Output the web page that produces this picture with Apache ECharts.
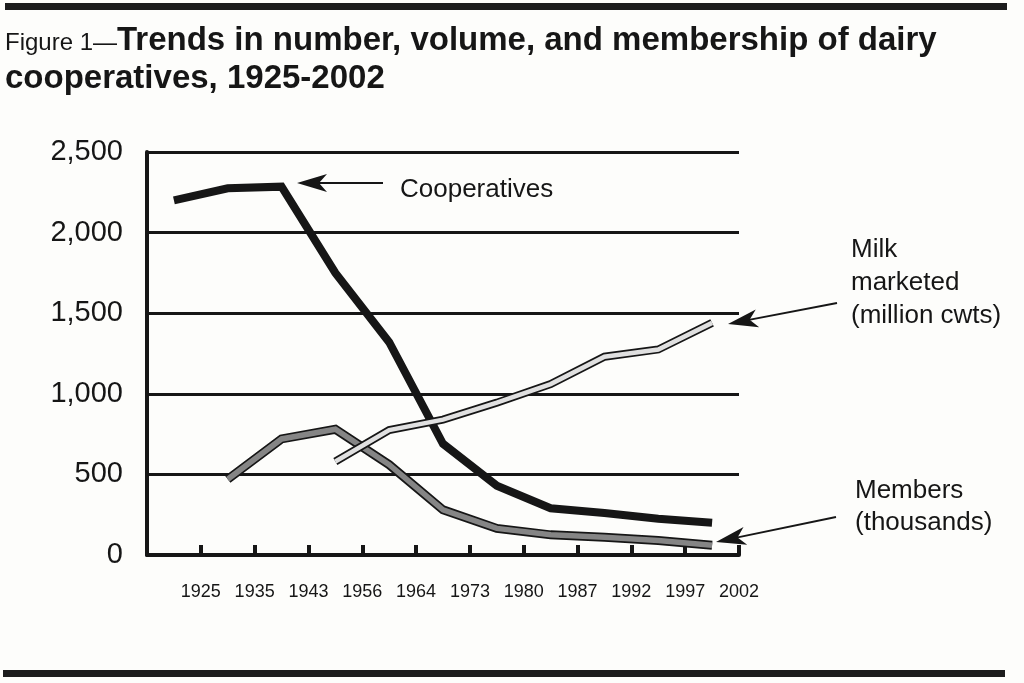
<!DOCTYPE html>
<html>
<head>
<meta charset="utf-8">
<title>Dairy cooperatives 1925-2002</title>
<script src="https://cdn.jsdelivr.net/npm/echarts@6/dist/echarts.min.js"></script>
<style>
  html, body { margin: 0; padding: 0; background: #fdfdfb; }
  #chart { width: 1024px; height: 683px; }
</style>
</head>
<body>
<div id="chart"></div>
<script>
// tick labels on the x axis (first slot left blank, it sits on the y axis)
var yearLabels = ["", "1925", "1935", "1943", "1956", "1964", "1973", "1980", "1987", "1992", "1997", "2002"];
// one point per period, drawn in the middle of each slot
var periods = ["p1", "p2", "p3", "p4", "p5", "p6", "p7", "p8", "p9", "p10", "p11"];

var cooperatives = [2200, 2275, 2285, 1750, 1320, 690, 430, 290, 260, 225, 200];
var members = [null, 470, 720, 780, 560, 280, 165, 125, 110, 90, 60];
var milkMarketed = [null, null, null, 580, 775, 840, 945, 1060, 1230, 1275, 1440];

var yTicks = [0, 500, 1000, 1500, 2000, 2500];

var ink = "#161616";
var font = "'Liberation Sans', Arial, Helvetica, sans-serif";

// arrow made of a thin shaft and a barbed head, tip at (x2, y2)
function arrow(x1, y1, x2, y2) {
  var a = Math.atan2(y2 - y1, x2 - x1);
  var c = Math.cos(a), s = Math.sin(a);
  function pt(back, side) {
    return [x2 - back * c - side * s, y2 - back * s + side * c];
  }
  return [
    {
      type: "line",
      shape: { x1: x1, y1: y1, x2: pt(16, 0)[0], y2: pt(16, 0)[1] },
      style: { stroke: ink, lineWidth: 1.8 },
    },
    {
      type: "polygon",
      shape: { points: [pt(0, 0), pt(30, -9), pt(22, 0), pt(30, 9)] },
      style: { fill: ink },
    },
  ];
}

function label(x, y, text, size, weight) {
  return {
    type: "text",
    x: x,
    y: y,
    style: {
      text: text,
      font: (weight || "normal") + " " + size + "px " + font,
      fill: ink,
      textVerticalAlign: "bottom",
    },
  };
}

var graphics = [
  { type: "rect", shape: { x: 5, y: 3, width: 1002, height: 7 }, style: { fill: "#1c1c1c" } },
  { type: "rect", shape: { x: 3, y: 670, width: 1002, height: 7 }, style: { fill: "#1c1c1c" } },
  label(5, 55, "Figure 1\u2014", 24),
  label(117, 57, "Trends in number, volume, and membership of dairy", 33, "bold"),
  label(5, 95, "cooperatives, 1925-2002", 33, "bold"),
  label(400, 203, "Cooperatives", 26),
  label(851, 263, "Milk", 26),
  label(851, 296, "marketed", 26),
  label(851, 329, "(million cwts)", 26),
  label(855, 504, "Members", 26),
  label(855, 536, "(thousands)", 26),
]
  .concat(arrow(383, 183, 297, 183))
  .concat(arrow(837, 303, 728, 324))
  .concat(arrow(836, 517, 716, 542));

var myChart = echarts.init(document.getElementById("chart"));

var option = {
  backgroundColor: "#fdfdfb",
  animation: false,
  grid: { left: 147, right: 285, top: 152, bottom: 128 },
  xAxis: [
    {
      type: "category",
      data: periods,
      boundaryGap: true,
      axisLine: { lineStyle: { color: ink, width: 4 } },
      axisTick: { show: true, inside: true, length: 10, lineStyle: { color: ink, width: 4 } },
      axisLabel: { show: false },
      splitLine: { show: false },
    },
    {
      type: "category",
      data: yearLabels,
      boundaryGap: false,
      position: "bottom",
      axisLine: { show: false },
      axisTick: { show: false },
      axisLabel: { interval: 0, color: ink, fontFamily: font, fontSize: 18, margin: 28 },
      splitLine: { show: false },
    },
  ],
  yAxis: {
    type: "value",
    min: yTicks[0],
    max: yTicks[yTicks.length - 1],
    interval: 500,
    axisLine: { show: true, lineStyle: { color: ink, width: 4 } },
    axisTick: { show: false },
    axisLabel: {
      color: ink,
      fontFamily: font,
      fontSize: 29,
      margin: 24,
      formatter: function (v) {
        return v.toLocaleString("en-US");
      },
    },
    splitLine: { lineStyle: { color: ink, width: 3 } },
  },
  series: [
    {
      name: "Cooperatives",
      type: "line",
      xAxisIndex: 0,
      data: cooperatives,
      symbol: "none",
      z: 2,
      lineStyle: { color: ink, width: 8, cap: "butt", join: "miter" },
    },
    // members: black outline with mid grey fill
    {
      name: "Members outline",
      type: "line",
      xAxisIndex: 0,
      data: members,
      symbol: "none",
      z: 3,
      lineStyle: { color: ink, width: 9, cap: "butt", join: "miter" },
    },
    {
      name: "Members",
      type: "line",
      xAxisIndex: 0,
      data: members,
      symbol: "none",
      z: 4,
      lineStyle: { color: "#858585", width: 5.5, cap: "butt", join: "miter" },
    },
    // milk marketed: black outline with light grey fill
    {
      name: "Milk outline",
      type: "line",
      xAxisIndex: 0,
      data: milkMarketed,
      symbol: "none",
      z: 5,
      lineStyle: { color: ink, width: 8, cap: "butt", join: "miter" },
    },
    {
      name: "Milk marketed",
      type: "line",
      xAxisIndex: 0,
      data: milkMarketed,
      symbol: "none",
      z: 6,
      lineStyle: { color: "#e0e0e0", width: 4.5, cap: "butt", join: "miter" },
    },
  ],
  graphic: graphics,
};

myChart.setOption(option);
</script>
</body>
</html>
